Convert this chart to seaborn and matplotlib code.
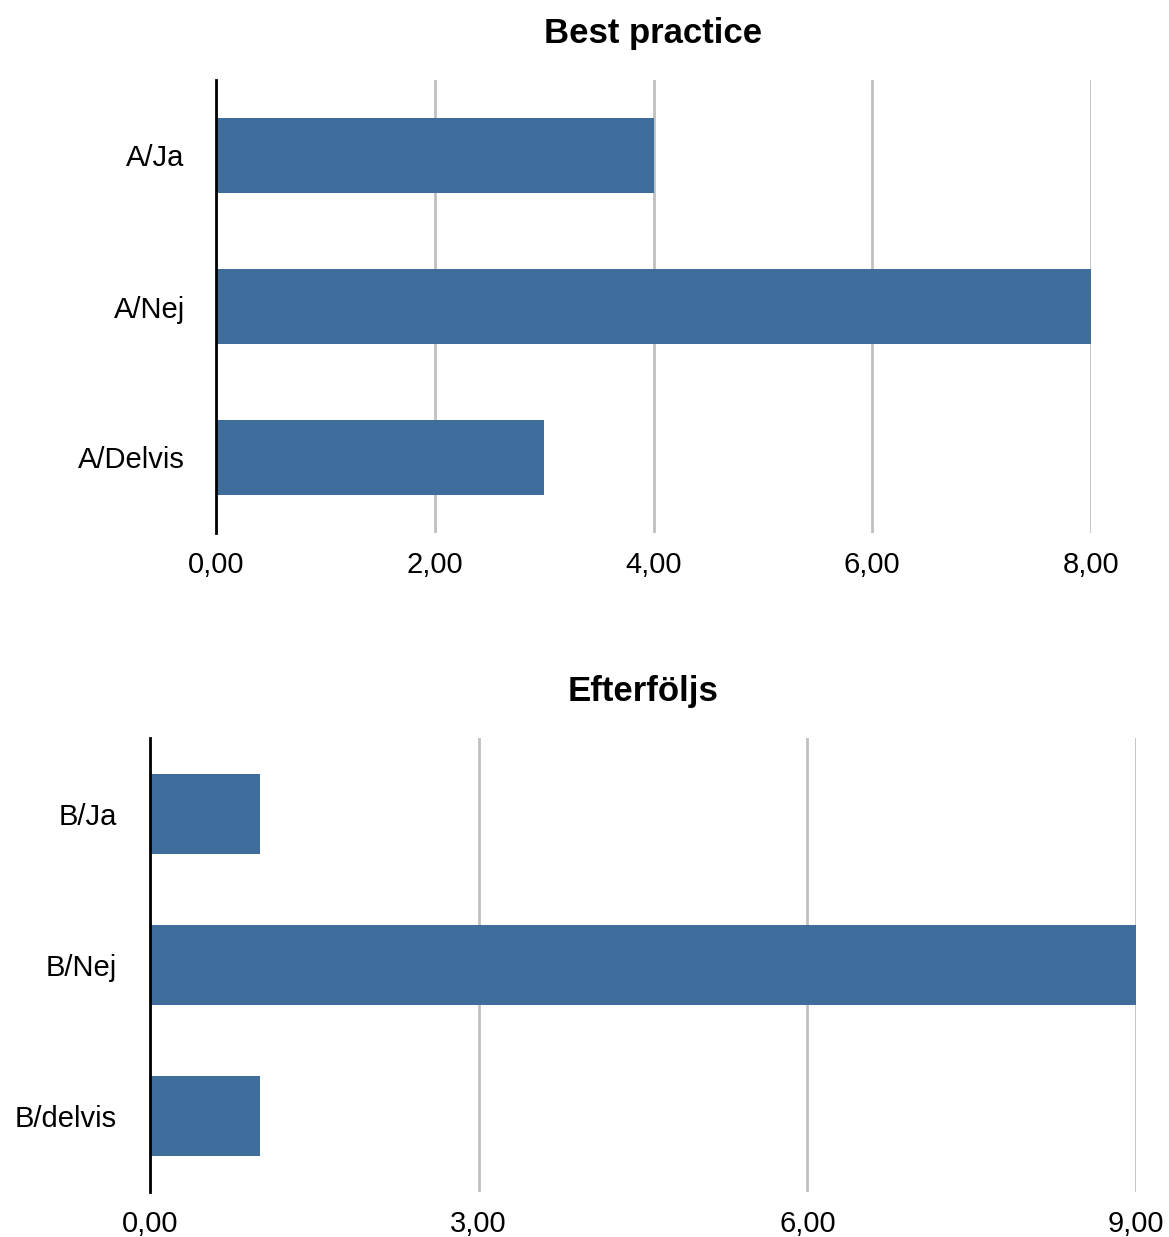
import matplotlib
matplotlib.use("Agg")
import matplotlib.pyplot as plt
from matplotlib.ticker import FuncFormatter
import seaborn as sns
import pandas as pd

# Survey answers, two questions
best_labels = ["A/Ja", "A/Nej", "A/Delvis"]
best_counts = [4, 8, 3]
best_ticks = [0, 2, 4, 6, 8]

follow_labels = ["B/Ja", "B/Nej", "B/delvis"]
follow_counts = [1, 9, 1]
follow_ticks = [0, 3, 6, 9]

sns.set_theme(style="white")
plt.rcParams["font.family"] = ["Liberation Sans", "DejaVu Sans"]

BAR = "#3e6d9c"
GRID = "#c0c0c0"

W, H = 1169, 1237
fig = plt.figure(figsize=(W / 100, H / 100), dpi=100)

comma = FuncFormatter(lambda v, _: f"{v:.2f}".replace(".", ","))


def panel(rect_px, labels, counts, ticks, title, width, ypad):
    x0, y_top, x1, y_bot = rect_px
    ax = fig.add_axes([x0 / W, 1 - y_bot / H, (x1 - x0) / W, (y_bot - y_top) / H])
    df = pd.DataFrame({"label": labels, "count": counts})
    sns.barplot(data=df, y="label", x="count", orient="h", color=BAR,
                saturation=1, width=width, linewidth=0, ax=ax, zorder=3)
    ax.set_xlim(ticks[0], ticks[-1])
    ax.set_ylim(len(labels) - 0.5, -0.5)
    ax.set_xticks(ticks)
    ax.xaxis.set_major_formatter(comma)
    ax.grid(axis="x", color=GRID, linewidth=2, zorder=0)
    ax.grid(axis="y", visible=False)
    for s in ("top", "right", "bottom"):
        ax.spines[s].set_visible(False)
    ax.spines["left"].set_color("black")
    ax.spines["left"].set_linewidth(2)
    ax.spines["left"].set_zorder(5)
    ax.tick_params(axis="both", length=0, labelsize=21, colors="black")
    ax.tick_params(axis="x", pad=13)
    ax.tick_params(axis="y", pad=ypad)
    ax.set_xlabel("")
    ax.set_ylabel("")
    ax.set_title(title, fontsize=25, fontweight="bold", color="black", pad=27)
    return ax


panel((216, 80, 1091, 533), best_labels, best_counts, best_ticks,
      "Best practice", 0.5, 22.5)
panel((150, 738, 1136, 1192), follow_labels, follow_counts, follow_ticks,
      "Efterföljs", 0.53, 24)

fig.savefig("out.png", dpi=100, facecolor="white")
